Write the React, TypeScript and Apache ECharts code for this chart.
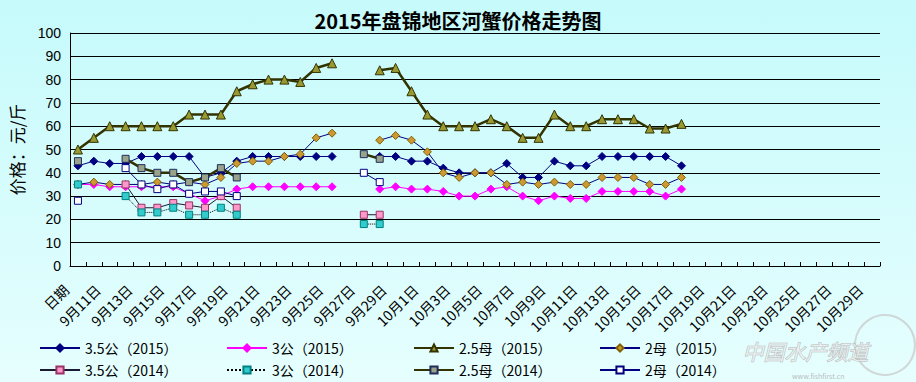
import React, { useEffect, useRef } from "react";
import * as echarts from "echarts";

const categories = [
  "日期", "9月10日", "9月11日", "9月12日", "9月13日", "9月14日", "9月15日", "9月16日", "9月17日", "9月18日",
  "9月19日", "9月20日", "9月21日", "9月22日", "9月23日", "9月24日", "9月25日", "9月26日", "9月27日", "9月28日",
  "9月29日", "9月30日", "10月1日", "10月2日", "10月3日", "10月4日", "10月5日", "10月6日", "10月7日", "10月8日",
  "10月9日", "10月10日", "10月11日", "10月12日", "10月13日", "10月14日", "10月15日", "10月16日", "10月17日", "10月18日",
  "10月19日", "10月20日", "10月21日", "10月22日", "10月23日", "10月24日", "10月25日", "10月26日", "10月27日", "10月28日",
  "10月29日",
];

const yTicks = [0, 10, 20, 30, 40, 50, 60, 70, 80, 90, 100];

const gong35_2015 = [43, 45, 44, 44, 47, 47, 47, 47, 38, 40, 45, 47, 47, 47, 47, 47, 47, null, null, 47, 47, 45, 45, 42, 40, 40, 40, 44, 38, 38, 45, 43, 43, 47, 47, 47, 47, 47, 43];
const gong3_2015 = [35, 35, 34, 34, 34, 34, 34, 31, 28, 30, 33, 34, 34, 34, 34, 34, 34, null, null, 33, 34, 33, 33, 32, 30, 30, 33, 34, 30, 28, 30, 29, 29, 32, 32, 32, 32, 30, 33];
const mu25_2015 = [50, 55, 60, 60, 60, 60, 60, 65, 65, 65, 75, 78, 80, 80, 79, 85, 87, null, null, 84, 85, 75, 65, 60, 60, 60, 63, 60, 55, 55, 65, 60, 60, 63, 63, 63, 59, 59, 61];
const mu2_2015 = [35, 36, 35, 35, 35, 36, 35, 36, 35, 38, 44, 45, 45, 47, 48, 55, 57, null, null, 54, 56, 54, 49, 40, 38, 40, 40, 35, 36, 35, 36, 35, 35, 38, 38, 38, 35, 35, 38];
const gong35_2014 = [null, null, null, 35, 25, 25, 27, 26, 25, 30, 25, null, null, null, null, null, null, null, 22, 22];
const gong3_2014 = [35, null, null, 30, 23, 23, 25, 22, 22, 25, 22, null, null, null, null, null, null, null, 18, 18];
const mu25_2014 = [45, null, null, 46, 42, 40, 40, 36, 38, 42, 38, null, null, null, null, null, null, null, 48, 46];
const mu2_2014 = [28, null, null, 42, 35, 33, 35, 31, 32, 32, 30, null, null, null, null, null, null, null, 40, 36];

const seriesNames = [
  "3.5公（2015）", "3公（2015）", "2.5母（2015）", "2母（2015）",
  "3.5公（2014）", "3公（2014）", "2.5母（2014）", "2母（2014）",
];

export default function App() {
  const ref = useRef<HTMLDivElement>(null);

  useEffect(() => {
    if (!ref.current) return;
    const chart = echarts.init(ref.current, undefined, { renderer: "svg" });
    const font = "'Noto Sans CJK SC', 'Liberation Sans', sans-serif";

    const mk = (
      name: string,
      data: (number | null)[],
      symbol: string,
      size: number,
      fill: string,
      border: string,
      lineColor: string,
      lineWidth: number,
      lineType: string = "solid"
    ) => ({
      name,
      type: "line",
      data,
      symbol,
      symbolSize: size,
      showAllSymbol: true,
      connectNulls: false,
      itemStyle: { color: fill, borderColor: border, borderWidth: 1 },
      lineStyle: { color: lineColor, width: lineWidth, type: lineType },
      emphasis: { disabled: true },
    });

    const colLeft = [39, 226, 413, 599];
    const rowTop = [341, 363];
    const legends = seriesNames.map((n, i) => ({
      data: [n],
      left: colLeft[i % 4],
      top: rowTop[Math.floor(i / 4)],
      itemWidth: 40,
      itemHeight: 9,
      padding: 0,
      textStyle: { fontSize: 14, color: "#000", fontFamily: font },
      selectedMode: false,
    }));

    chart.setOption({
      animation: false,
      backgroundColor: new echarts.graphic.LinearGradient(0, 0, 0, 1, [
        { offset: 0, color: "#C6FAFB" },
        { offset: 1, color: "#E6FEFE" },
      ]),
      title: {
        text: "2015年盘锦地区河蟹价格走势图",
        left: "center",
        top: 5,
        textStyle: { fontSize: 20, fontWeight: "bold", color: "#000", fontFamily: font },
      },
      legend: legends,
      grid: { left: 65, right: 36, top: 33, bottom: 116, containLabel: false },
      xAxis: {
        type: "category",
        data: categories,
        boundaryGap: true,
        axisLine: { show: true, lineStyle: { color: "#000", width: 1 } },
        axisTick: { show: true, inside: true, length: 4, interval: 0, lineStyle: { color: "#000" } },
        axisLabel: {
          interval: 1,
          rotate: 45,
          margin: 9,
          padding: [0, 17, 0, 0],
          fontSize: 14,
          color: "#000",
          fontFamily: font,
        },
        splitLine: { show: false },
      },
      yAxis: {
        type: "value",
        min: yTicks[0],
        max: yTicks[yTicks.length - 1],
        interval: 10,
        name: "价格：元/斤",
        nameLocation: "middle",
        nameRotate: 90,
        nameGap: 45,
        nameTextStyle: { fontSize: 17, color: "#000", fontFamily: font },
        axisLine: { show: true, lineStyle: { color: "#000", width: 1 } },
        axisTick: { show: false },
        axisLabel: { fontSize: 14, color: "#000", margin: 9, fontFamily: "'Liberation Sans', sans-serif" },
        splitLine: { show: true, lineStyle: { color: "#000", width: 1 } },
      },
      graphic: [
        {
          type: "circle",
          shape: { cx: 885, cy: 345, r: 30 },
          style: { fill: "none", stroke: "rgba(200,200,200,0.7)", lineWidth: 2 },
          silent: true,
        },
        {
          type: "text",
          left: 742,
          top: 340,
          style: {
            text: "中国水产频道",
            fontSize: 21,
            fontStyle: "italic",
            fontFamily: font,
            fill: "rgba(255,255,255,0.6)",
            stroke: "rgba(170,170,170,0.8)",
            lineWidth: 1,
          },
          silent: true,
        },
        {
          type: "text",
          left: 792,
          top: 372,
          style: { text: "www.fishfirst.cn", fontSize: 7, fill: "rgba(170,170,170,0.8)", fontFamily: font },
          silent: true,
        },
      ],
      series: [
        mk(seriesNames[0], gong35_2015, "diamond", 8, "#000080", "#000080", "#000080", 1),
        mk(seriesNames[1], gong3_2015, "diamond", 8, "#FF00FF", "#FF00FF", "#FF00FF", 1),
        mk(seriesNames[2], mu25_2015, "triangle", 9, "#999933", "#333300", "#333300", 2.5),
        mk(seriesNames[3], mu2_2015, "diamond", 8, "#CC9933", "#806000", "#000080", 1),
        mk(seriesNames[4], gong35_2014, "rect", 7, "#FF99CC", "#993366", "#1A1A33", 1),
        mk(seriesNames[5], gong3_2014, "rect", 7, "#33CCCC", "#008080", "#000000", 1, "dotted"),
        mk(seriesNames[6], mu25_2014, "rect", 7, "#99A38A", "#1F2D5C", "#333300", 2.5),
        mk(seriesNames[7], mu2_2014, "rect", 7, "#FFFFFF", "#000080", "#000080", 1),
      ],
    });

    return () => chart.dispose();
  }, []);

  return (
    <div
      ref={ref}
      style={{ position: "fixed", left: 0, top: 0, width: 916, height: 382 }}
    />
  );
}
